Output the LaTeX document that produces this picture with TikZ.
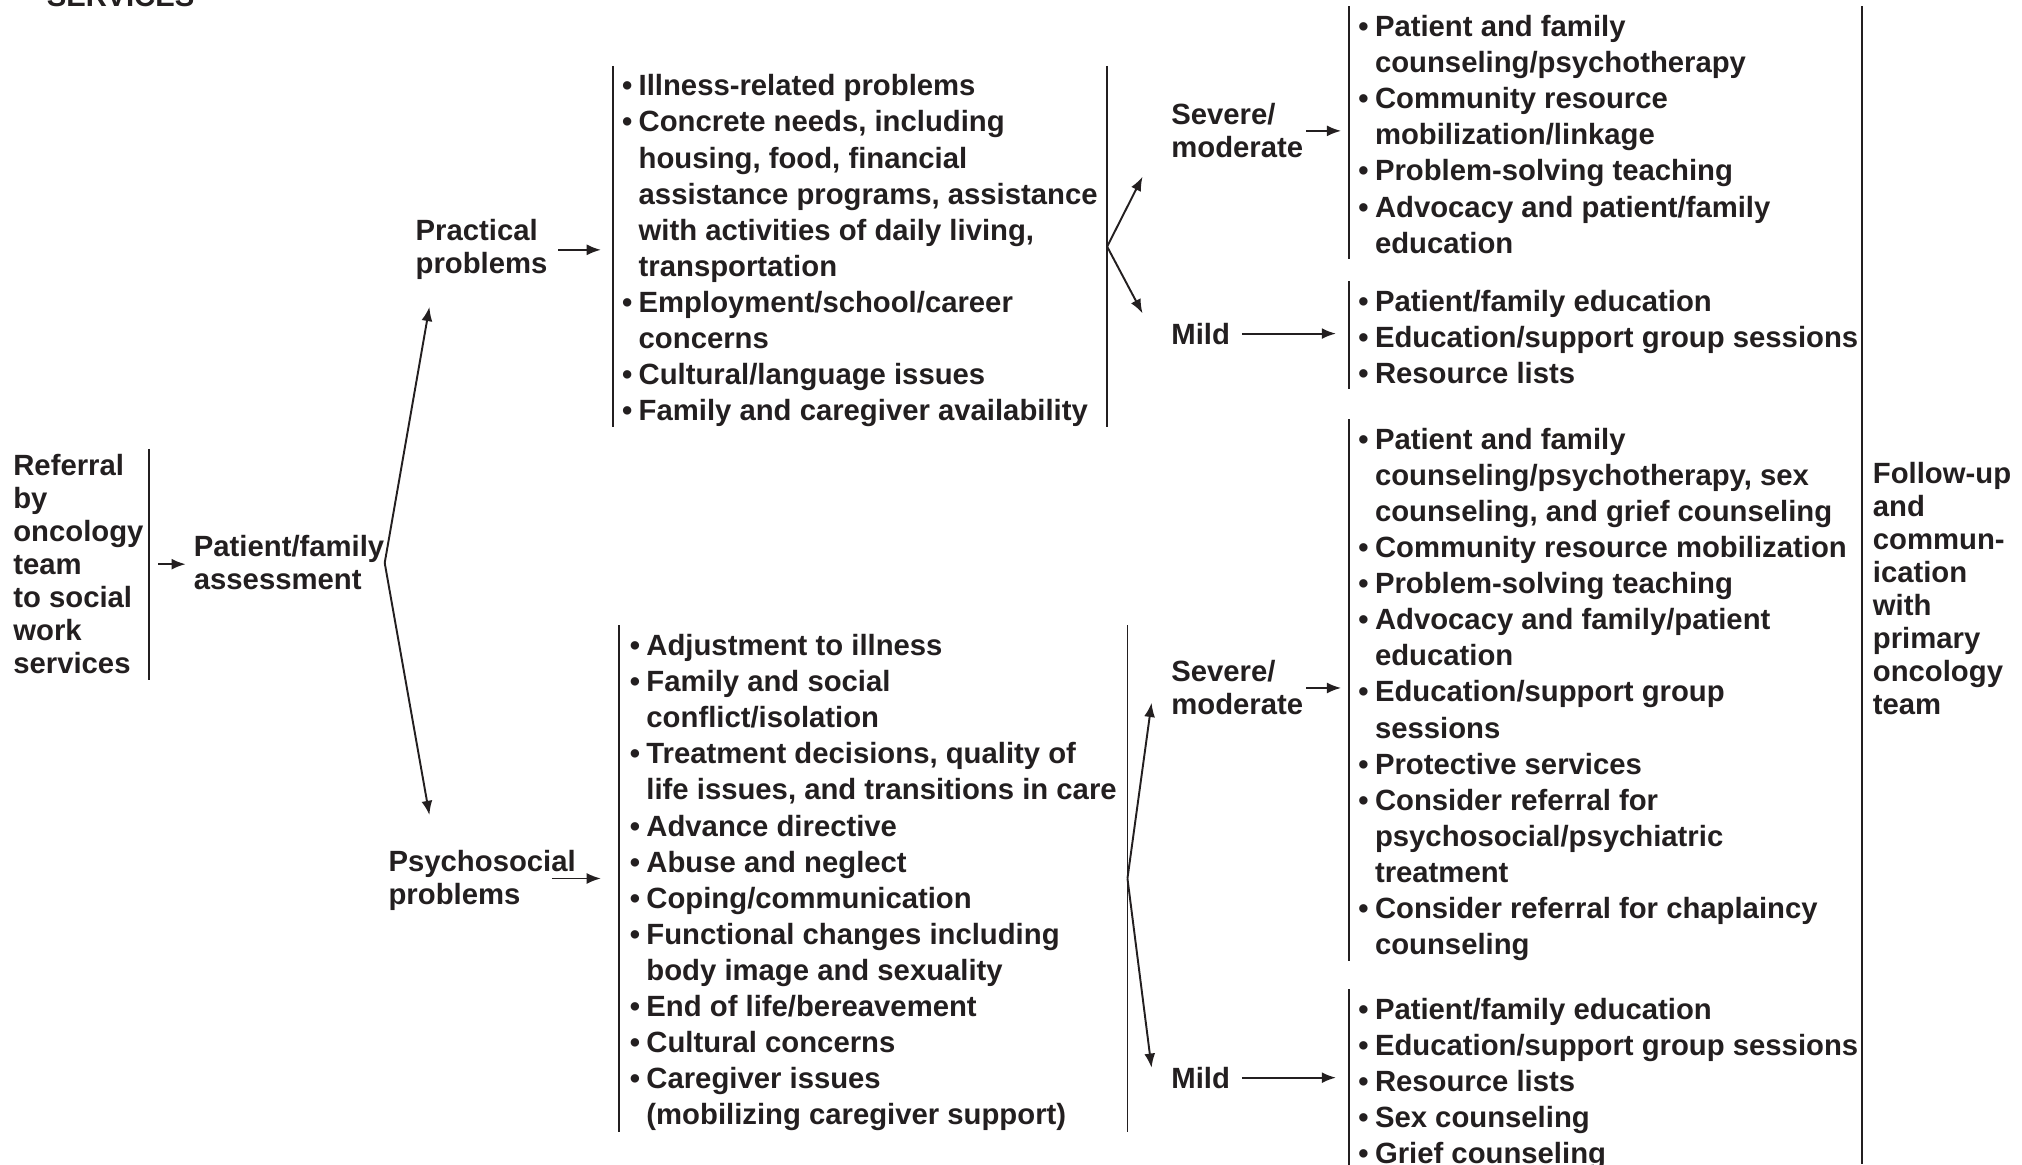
\documentclass[tikz,border=0pt]{standalone}
\usepackage{fontspec}
\setmainfont{Liberation Sans}
\usepackage{tikz}
\usetikzlibrary{arrows.meta}
\definecolor{ink}{RGB}{35,31,32}
\newcommand{\itm}{\makebox[0.57em][l]{\textbullet}}
\newcommand{\cnt}{\hspace*{0.57em}}
\newcommand{\firstln}{\rule{0pt}{4.6mm}}
\newcommand{\lastln}{\rule[-0.8mm]{0pt}{0.8mm}}
\tikzset{
    lbl/.style={inner sep=0pt, anchor=north west, align=left, text=ink,
        font=\fontsize{12.92}{14.57}\selectfont\bfseries},
    lst/.style={inner xsep=1.4mm, inner ysep=0pt, anchor=north west, align=left, text=ink,
        font=\fontsize{12.92}{15.93}\selectfont\bfseries},
    bar/.style={draw=ink, line width=0.85pt},
    arr/.style={draw=ink, line width=0.85pt, -{Latex[length=2.2mm,width=1.7mm]}},
}

\begin{document}
\begin{tikzpicture}[x=0.2mm, y=-0.2mm]
\useasboundingbox (0,0) rectangle (1568,903);

\node[lbl, anchor=base west] (title) at (36,5) {SERVICES\textsuperscript{a}};

\node[lbl, inner xsep=0.8mm, inner ysep=0.8mm] (refl) at (6,348)
    {Referral\\by\\oncology\\team\\to social\\work\\services};
\node[lbl] (assess) at (150,415) {Patient/family\\assessment};
\node[lbl] (prac) at (322,170) {Practical\\problems};
\node[lbl] (psy) at (301,659) {Psychosocial\\problems};

\node[lst] (plist) at (475,51) {\firstln\itm Illness-related problems\\
    \itm Concrete needs, including\\
    \cnt housing, food, financial\\
    \cnt assistance programs, assistance\\
    \cnt with activities of daily living,\\
    \cnt transportation\\
    \itm Employment/school/career\\
    \cnt concerns\\
    \itm Cultural/language issues\\
    \itm Family and caregiver availability\lastln};
\node[lst, inner xsep=1.6mm] (psylist) at (480,485) {\firstln\itm Adjustment to illness\\
    \itm Family and social\\
    \cnt conflict/isolation\\
    \itm Treatment decisions, quality of\\
    \cnt life issues, and transitions in care\\
    \itm Advance directive\\
    \itm Abuse and neglect\\
    \itm Coping/communication\\
    \itm Functional changes including\\
    \cnt body image and sexuality\\
    \itm End of life/bereavement\\
    \itm Cultural concerns\\
    \itm Caregiver issues\\
    \cnt (mobilizing caregiver support)\lastln};

\node[lbl] (sev1) at (908,80) {Severe/\\moderate};
\node[lbl] (mild1) at (908,250) {Mild};
\node[lbl] (sev2) at (908,512) {Severe/\\moderate};
\node[lbl] (mild2) at (908,827) {Mild};

\node[lst] (slist1) at (1046,5) {\firstln\itm Patient and family\\
    \cnt counseling/psychotherapy\\
    \itm Community resource\\
    \cnt mobilization/linkage\\
    \itm Problem-solving teaching\\
    \itm Advocacy and patient/family\\
    \cnt education\lastln};
\node[lst] (mlist1) at (1046,218) {\firstln\itm Patient/family education\\
    \itm Education/support group sessions\\
    \itm Resource lists\lastln};
\node[lst] (slist2) at (1046,325) {\firstln\itm Patient and family\\
    \cnt counseling/psychotherapy, sex\\
    \cnt counseling, and grief counseling\\
    \itm Community resource mobilization\\
    \itm Problem-solving teaching\\
    \itm Advocacy and family/patient\\
    \cnt education\\
    \itm Education/support group\\
    \cnt sessions\\
    \itm Protective services\\
    \itm Consider referral for\\
    \cnt psychosocial/psychiatric\\
    \cnt treatment\\
    \itm Consider referral for chaplaincy\\
    \cnt counseling\lastln};
\node[lst] (mlist2) at (1046,767) {\firstln\itm Patient/family education\\
    \itm Education/support group sessions\\
    \itm Resource lists\\
    \itm Sex counseling\\
    \itm Grief counseling\lastln};

\node[lbl] (follow) at (1452,358)
    {Follow-up\\and\\commun-\\ication\\with\\primary\\oncology\\team};

\coordinate (upP) at (333,238);
\coordinate (upS) at (333,632);
\coordinate (pSev) at (886,137);
\coordinate (pMild) at (886,243);
\coordinate (sSev) at (893,545);
\coordinate (sMild) at (893,828);

\draw[bar] (refl.north east) -- (refl.south east);
\foreach \n in {plist,psylist,slist1,mlist1,slist2,mlist2}
    \draw[bar] (\n.north west) -- (\n.south west);
\draw[bar] (plist.north east) -- (plist.south east);
\draw[bar] (psylist.north east) -- (psylist.south east);
\draw[bar] (1444,5) -- (1444,903);

\draw[arr, shorten <=1.4mm, shorten >=1.2mm] (refl.east) -- (refl.east -| assess.west);
\draw[arr] (assess.east) -- (upP);
\draw[arr] (assess.east) -- (upS);
\draw[arr, shorten <=1.6mm, shorten >=1.8mm] (prac.east) -- (prac.east -| plist.west);
\draw[arr, shorten >=2.8mm] ([xshift=-10.4mm]psylist.west) -- (psylist.west);
\draw[arr] (plist.east) -- (pSev);
\draw[arr] (plist.east) -- (pMild);
\draw[arr] (psylist.east) -- (sSev);
\draw[arr] (psylist.east) -- (sMild);
\draw[arr, shorten <=0.4mm, shorten >=1.2mm] (sev1.east) -- (sev1.east -| slist1.west);
\draw[arr, shorten <=1.8mm, shorten >=2mm] (mild1.east) -- (mild1.east -| mlist1.west);
\draw[arr, shorten <=0.4mm, shorten >=1.2mm] (sev2.east) -- (sev2.east -| slist2.west);
\draw[arr, shorten <=1.8mm, shorten >=2mm] (mild2.east) -- (mild2.east -| mlist2.west);
\end{tikzpicture}
\end{document}
